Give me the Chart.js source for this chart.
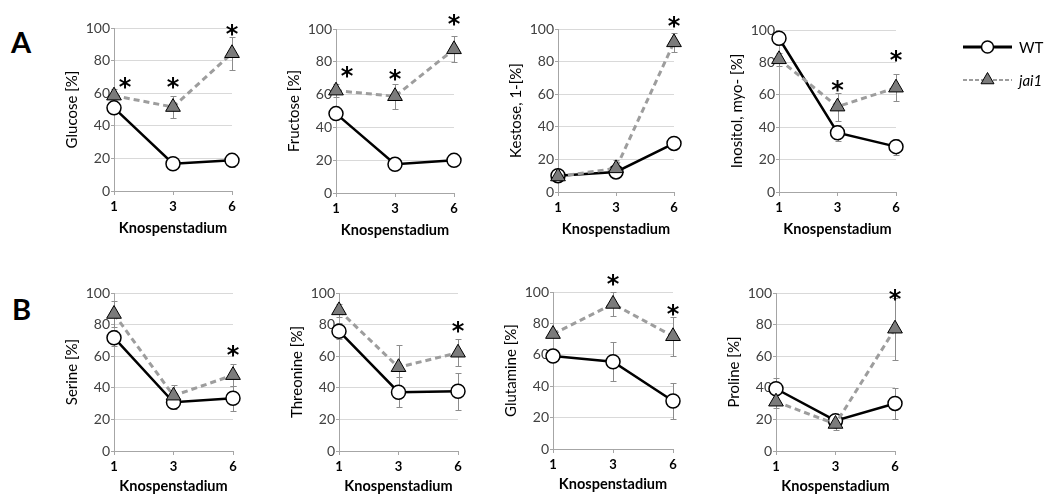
<!DOCTYPE html>
<html>
<head>
<meta charset="utf-8">
<script src="https://cdn.jsdelivr.net/npm/chart.js@4.4.1/dist/chart.umd.min.js"></script>
<style>
  body { margin: 0; background: #fff; width: 1044px; height: 498px; position: relative; overflow: hidden; }
  canvas { position: absolute; }
  .panel-letter { position: absolute; font: bold 29px Lato, sans-serif; line-height: 29px; color: #000; }
</style>
</head>
<body>
<div class="panel-letter" style="left:11px;top:27px">A</div>
<div class="panel-letter" style="left:12px;top:294px">B</div>

<script>
// Knospenstadium (Kategorien)
const stages = ['1', '3', '6'];

const yTitles = ['Glucose [%]', 'Fructose [%]', 'Kestose, 1-[%]', 'Inositol, myo- [%]',
                 'Serine [%]', 'Threonine [%]', 'Glutamine [%]', 'Proline [%]'];

// WT Mittelwerte + Fehler
const wtMeans = [
  [51, 16.7, 18.8],
  [48.4, 17.5, 19.9],
  [10, 12.3, 29.8],
  [94.9, 36.6, 28],
  [71.7, 30.8, 33.4],
  [75.8, 37.2, 37.8],
  [59.2, 55.6, 30.6],
  [39.4, 19.2, 30.1]
];
const wtErrors = [
  [3, 2, 4],
  [3, 2, 3],
  [2, 3, 3],
  [4, 5, 5],
  [5, 4, 8],
  [5, 9.5, 11.7],
  [3, 12.3, 11.7],
  [7, 4, 10]
];

// jai1 Mittelwerte + Fehler
const jaiMeans = [
  [58.5, 51.5, 84.5],
  [62.4, 59, 87.6],
  [9.5, 14.5, 91.8],
  [81.9, 52.7, 64.4],
  [86.7, 35, 48],
  [89, 53, 62.2],
  [73.2, 92.4, 71.8],
  [31.2, 17.1, 77.4]
];
const jaiErrors = [
  [4, 7, 10],
  [4, 7.5, 8],
  [2, 5, 6],
  [4, 8.6, 8.5],
  [8, 7, 7],
  [4, 14, 8.5],
  [2, 7.4, 12.5],
  [4, 4, 19.6]
];

// Signifikanz-Sternchen (Höhe in %)
const stars = [
  [68, 68, 100],
  [75, 73.5, 107],
  [null, null, 106],
  [null, 67, 85.6],
  [null, null, 64.5],
  [null, null, 80],
  [null, 109, 90],
  [null, null, 100]
];

// Lage der Plotflächen (Achse links, Breite, y=100 oben, Höhe)
const panels = [
  { x: 114, w: 118, y: 28, h: 163, xh: 46 },
  { x: 336, w: 118, y: 29, h: 164, xh: 46 },
  { x: 558, w: 116, y: 29, h: 163, xh: 46 },
  { x: 779, w: 117, y: 30, h: 162, xh: 46, legend: true },
  { x: 114, w: 119, y: 293, h: 158, xh: 44 },
  { x: 339, w: 119, y: 293, h: 158, xh: 44 },
  { x: 553, w: 120, y: 292, h: 157, xh: 44 },
  { x: 776, w: 119, y: 293, h: 158, xh: 44 }
];

const PAD_TOP = 30, PAD_RIGHT = 12, Y_W = 51, LEGEND_W = 148;

// Fehlerbalken
const errorBars = {
  id: 'errorBars',
  beforeDatasetsDraw(chart) {
    const ctx = chart.ctx, y = chart.scales.y;
    chart.data.datasets.forEach((ds, di) => {
      const meta = chart.getDatasetMeta(di);
      ctx.save();
      ctx.strokeStyle = '#8c8c8c';
      ctx.lineWidth = 1;
      meta.data.forEach((pt, j) => {
        const v = ds.data[j], e = ds.errors[j];
        const px = Math.round(pt.x) + 0.5;
        const top = Math.round(y.getPixelForValue(v + e)) + 0.5;
        const bot = Math.round(y.getPixelForValue(v - e)) + 0.5;
        ctx.beginPath();
        ctx.moveTo(px, top); ctx.lineTo(px, bot);
        ctx.moveTo(px - 3, top); ctx.lineTo(px + 3, top);
        ctx.moveTo(px - 3, bot); ctx.lineTo(px + 3, bot);
        ctx.stroke();
      });
      ctx.restore();
    });
  }
};

// Sternchen
const asterisks = {
  id: 'asterisks',
  afterDatasetsDraw(chart) {
    const s = chart.options.plugins.asterisks.values;
    const ctx = chart.ctx, x = chart.scales.x, y = chart.scales.y;
    const size = 24;
    ctx.save();
    ctx.font = 'bold ' + size + 'px "DejaVu Sans"';
    ctx.fillStyle = '#000';
    ctx.textAlign = 'center';
    ctx.textBaseline = 'alphabetic';
    s.forEach((v, j) => {
      if (v === null) return;
      const px = x.getPixelForValue(j) + (j === 0 ? 11 : 0);
      const py = y.getPixelForValue(v);
      ctx.fillText('*', px, py + 0.6 * size);
    });
    ctx.restore();
  }
};

// Legende (WT / jai1) rechts neben dem letzten Diagramm
const sideLegend = {
  id: 'sideLegend',
  afterDraw(chart) {
    if (!chart.options.plugins.sideLegend.show) return;
    const ctx = chart.ctx, area = chart.chartArea;
    const x0 = area.right + 67, x1 = area.right + 116;
    const rows = [chart.data.datasets[1], chart.data.datasets[0]];
    rows.forEach((ds, k) => {
      const yy = area.top + 17 + k * 33;
      ctx.save();
      ctx.strokeStyle = ds.borderColor;
      ctx.lineWidth = k === 0 ? 3 : 2;
      ctx.setLineDash(k === 0 ? [] : [4, 2]);
      ctx.beginPath(); ctx.moveTo(x0, yy); ctx.lineTo(x1, yy); ctx.stroke();
      ctx.setLineDash([]);
      ctx.fillStyle = ds.pointBackgroundColor;
      ctx.strokeStyle = ds.pointBorderColor;
      ctx.lineWidth = ds.pointBorderWidth;
      Chart.helpers.drawPoint(ctx, { pointStyle: ds.pointStyle, radius: ds.pointRadius - 1, rotation: 0, borderWidth: ds.pointBorderWidth }, (x0 + x1) / 2, yy);
      ctx.fillStyle = '#000';
      ctx.font = (k === 0 ? '' : 'italic ') + '15px Lato';
      ctx.textBaseline = 'middle';
      ctx.fillText(ds.label, x1 + 7, yy + 1);
      ctx.restore();
    });
  }
};

panels.forEach((p, i) => {
  const canvas = document.createElement('canvas');
  const padRight = p.legend ? PAD_RIGHT + LEGEND_W : PAD_RIGHT;
  const width = Y_W + p.w + padRight;
  const height = PAD_TOP + p.h + p.xh;
  canvas.width = width; canvas.height = height;
  canvas.style.left = (p.x - Y_W) + 'px';
  canvas.style.top = (p.y - PAD_TOP) + 'px';
  canvas.style.width = width + 'px';
  canvas.style.height = height + 'px';
  document.body.appendChild(canvas);

  new Chart(canvas, {
    type: 'line',
    data: {
      labels: stages,
      datasets: [{
        label: 'jai1',
        data: jaiMeans[i],
        errors: jaiErrors[i],
        borderColor: '#9d9d9d',
        borderWidth: 3,
        borderDash: [6, 4],
        pointStyle: 'triangle',
        pointRadius: 8.5,
        pointBackgroundColor: '#7b7b7b',
        pointBorderColor: '#000',
        pointBorderWidth: 1,
        clip: false
      }, {
        label: 'WT',
        data: wtMeans[i],
        errors: wtErrors[i],
        borderColor: '#000',
        borderWidth: 2.5,
        pointStyle: 'circle',
        pointRadius: 7,
        pointBackgroundColor: '#fff',
        pointBorderColor: '#000',
        pointBorderWidth: 1.5,
        clip: false
      }]
    },
    options: {
      responsive: false,
      animation: false,
      layout: { padding: { top: PAD_TOP, right: padRight, left: 0, bottom: 0 } },
      plugins: {
        legend: { display: false },
        tooltip: { enabled: false },
        asterisks: { values: stars[i] },
        sideLegend: { show: !!p.legend }
      },
      scales: {
        x: {
          type: 'category',
          offset: false,
          grid: { drawOnChartArea: false, tickLength: 4, color: '#a6a6a6' },
          border: { color: '#a6a6a6' },
          ticks: { font: { family: 'Lato', weight: 'bold', size: 13 }, color: '#000', padding: 4 },
          title: { display: true, text: 'Knospenstadium', font: { family: 'Lato', weight: 'bold', size: 14.5 }, color: '#000', padding: 0 },
          afterFit: function(scale) { scale.height = p.xh; }
        },
        y: {
          min: 0,
          max: 100,
          ticks: { stepSize: 20, font: { family: 'Lato', size: 14 }, color: '#404040', padding: 1 },
          grid: { color: '#d9d9d9', tickLength: 3, tickColor: '#a6a6a6' },
          border: { color: '#a6a6a6' },
          title: { display: true, text: yTitles[i], font: { family: 'Lato', size: 15 }, color: '#000', padding: 0 },
          afterFit: function(scale) { scale.width = Y_W; }
        }
      }
    },
    plugins: [errorBars, asterisks, sideLegend]
  });
});
</script>
</body>
</html>
